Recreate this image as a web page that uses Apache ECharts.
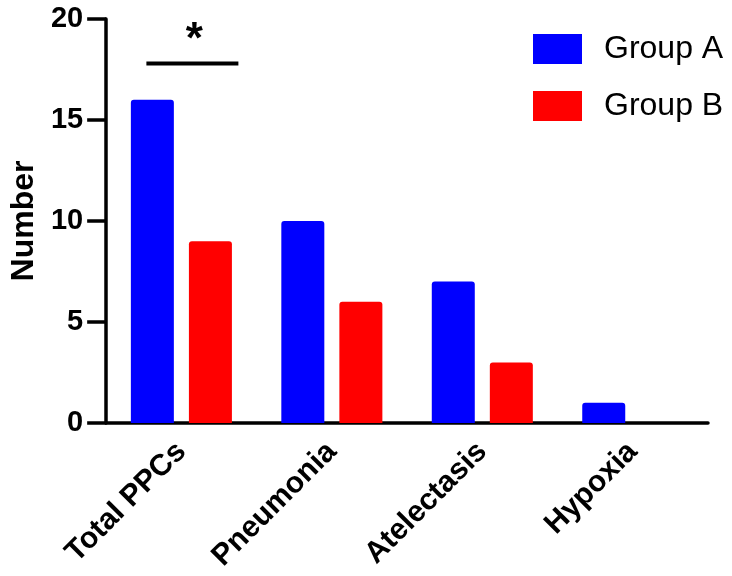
<!DOCTYPE html>
<html>
<head>
<meta charset="utf-8">
<script src="https://cdn.jsdelivr.net/npm/echarts@6/dist/echarts.min.js"></script>
<style>
html,body{margin:0;padding:0;background:#fff;}
#main{width:732px;height:576px;}
</style>
</head>
<body>
<div id="main"></div>
<script>
var categories = ['Total PPCs', 'Pneumonia', 'Atelectasis', 'Hypoxia'];
var groupA = [16, 10, 7, 1];
var groupB = [9, 6, 3, 0];
var yTicks = [0, 5, 10, 15, 20];
var sigLevel = 17.8;   // height of the significance bar
var starLevel = 18.9;  // height of the asterisk

var font = 'Arial, "Liberation Sans", Helvetica, sans-serif';
var myChart = echarts.init(document.getElementById('main'));

var option = {
    animation: false,
    backgroundColor: '#fff',
    grid: { left: 105, right: 24, top: 19, bottom: 153 },
    legend: {
        data: ['Group A', 'Group B'],
        orient: 'vertical',
        left: 533,
        top: 33,
        padding: 0,
        itemWidth: 49,
        itemHeight: 30,
        itemGap: 25,
        icon: 'rect',
        textStyle: { fontFamily: font, fontSize: 32, lineHeight: 30, color: '#000', padding: [0, 0, 0, 17] }
    },
    xAxis: {
        type: 'category',
        data: categories,
        axisLine: { lineStyle: { color: '#000', width: 3.5 } },
        axisTick: { show: false },
        axisLabel: {
            rotate: 45,
            margin: 24,
            color: '#000',
            fontFamily: font,
            fontWeight: 'bold',
            fontSize: 30
        }
    },
    yAxis: {
        type: 'value',
        min: yTicks[0],
        max: yTicks[yTicks.length - 1],
        interval: 5,
        name: 'Number',
        nameLocation: 'middle',
        nameGap: 64,
        nameTextStyle: { fontFamily: font, fontWeight: 'bold', fontSize: 32, color: '#000' },
        axisLine: { show: true, lineStyle: { color: '#000', width: 3.5 } },
        axisTick: { show: true, length: 19, lineStyle: { color: '#000', width: 3.5 } },
        splitLine: { show: false },
        axisLabel: {
            margin: 23,
            color: '#000',
            fontFamily: font,
            fontWeight: 'bold',
            fontSize: 29
        }
    },
    series: [
        {
            name: 'Group A',
            type: 'bar',
            data: groupA,
            barWidth: 43,
            barGap: '35%',
            itemStyle: { color: '#0000ff', borderRadius: [3, 3, 0, 0] }
        },
        {
            name: 'Group B',
            type: 'bar',
            data: groupB,
            barWidth: 43,
            itemStyle: { color: '#ff0000', borderRadius: [3, 3, 0, 0] }
        }
    ]
};
myChart.setOption(option);

// significance bracket over the first category
function drawSig() {
    var c = myChart.convertToPixel({ xAxisIndex: 0 }, categories[0]);
    var yLine = myChart.convertToPixel({ yAxisIndex: 0 }, sigLevel);
    var yStar = myChart.convertToPixel({ yAxisIndex: 0 }, starLevel);
    myChart.setOption({
        graphic: [
            {
                type: 'line',
                shape: { x1: c - 35, y1: yLine, x2: c + 57, y2: yLine },
                style: { stroke: '#000', lineWidth: 4 }
            },
            {
                type: 'text',
                x: c + 13,
                y: yStar,
                style: {
                    text: '*',
                    font: 'bold 44px ' + font,
                    fill: '#000',
                    align: 'center',
                    verticalAlign: 'middle'
                }
            }
        ]
    });
}
drawSig();

window.addEventListener('resize', function () {
    myChart.resize();
    drawSig();
});
</script>
</body>
</html>
